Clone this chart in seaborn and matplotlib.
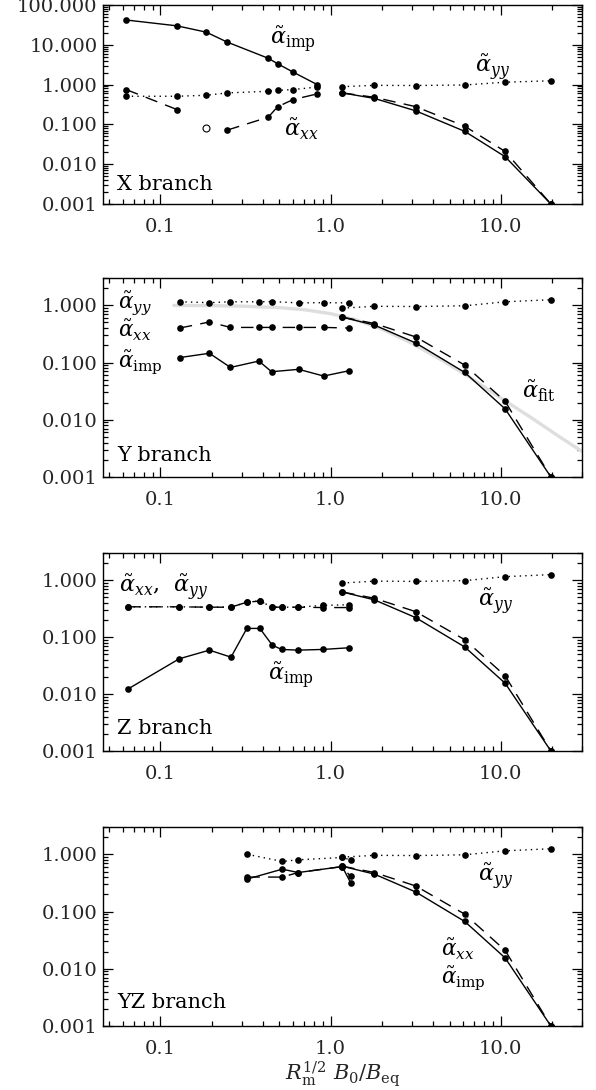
import numpy as np
import matplotlib
matplotlib.use("Agg")
import matplotlib.pyplot as plt
import seaborn as sns
from matplotlib.ticker import FixedLocator, FormatStrFormatter, NullFormatter, LogLocator

sns.set_theme(style="ticks")
plt.rcParams["font.family"] = ["DejaVu Serif"]
plt.rcParams["mathtext.fontset"] = "dejavuserif"

# ---- shared branch beyond the bifurcation (x > 1) ----
x_right = [1.17, 1.81, 3.16, 6.14, 10.6, 19.7]
yy_right = [0.89, 0.96, 0.95, 0.98, 1.15, 1.25]
imp_right = [0.62, 0.45, 0.22, 0.067, 0.0155, 0.001]
xx_right = [0.62, 0.48, 0.28, 0.09, 0.021, 0.001]

# ---- X branch ----
x_X = [0.063, 0.125, 0.186, 0.247, 0.43, 0.488, 0.60, 0.835]
imp_X = [42.0, 30.0, 20.8, 11.7, 4.6, 3.35, 2.08, 1.0]
yy_X = [0.51, 0.51, 0.54, 0.62, 0.68, 0.72, 0.75, 0.87]
xx_X = [0.75, 0.237, np.nan, 0.072, 0.152, 0.277, 0.42, 0.585]
xx_X_neg_x = [0.186]
xx_X_neg = [0.083]

# ---- Y branch ----
x_Y = [0.13, 0.194, 0.258, 0.379, 0.45, 0.65, 0.91, 1.29]
yy_Y = [1.15, 1.11, 1.15, 1.15, 1.16, 1.10, 1.11, 1.10]
xx_Y = [0.40, 0.51, 0.41, 0.41, 0.41, 0.41, 0.41, 0.40]
imp_Y = [0.122, 0.145, 0.082, 0.106, 0.069, 0.076, 0.058, 0.072]
x_fit = [0.12, 0.2, 0.3, 0.5, 0.7, 1.0, 1.4, 2.0, 3.0, 4.5, 6.5, 10.0, 15.0, 22.0, 30.0]
y_fit = [0.994, 0.984, 0.965, 0.909, 0.836, 0.714, 0.56, 0.385, 0.217, 0.11,
         0.056, 0.024, 0.011, 0.0051, 0.0028]

# ---- Z branch ----
x_Z = [0.0646, 0.129, 0.194, 0.26, 0.322, 0.384, 0.454, 0.515, 0.643, 0.90, 1.29]
xx_Z = [0.34, 0.34, 0.335, 0.335, 0.41, 0.43, 0.335, 0.335, 0.335, 0.33, 0.33]
yy_Z = [0.34, 0.34, 0.335, 0.335, 0.41, 0.43, 0.335, 0.335, 0.335, 0.36, 0.37]
imp_Z = [0.0123, 0.0416, 0.059, 0.0444, 0.142, 0.142, 0.0723, 0.0607, 0.059, 0.0607, 0.065]

# ---- YZ branch ----
x_YZ = [0.324, 0.52, 0.645, 1.17, 1.31]
yy_YZ = [1.0, 0.75, 0.80, 0.88, 0.80]
xx_YZ = [0.40, 0.40, 0.48, 0.61, 0.41]
imp_YZ = [0.37, 0.55, 0.48, 0.61, 0.32]

x_ticks = [0.1, 1.0, 10.0]
y_ticks_X = [0.001, 0.01, 0.1, 1.0, 10.0, 100.0]
y_ticks = [0.001, 0.01, 0.1, 1.0]

SOLID = "-"
DASHED = (0, (9, 6))
DOTTED = (0, (1, 3))


def curve(ax, x, y, ls, ms=4.8):
    """Draw a marked line, leaving gaps where y is NaN."""
    x = np.asarray(x, float)
    y = np.asarray(y, float)
    idx = np.flatnonzero(~np.isnan(y))
    if idx.size == 0:
        return
    splits = np.flatnonzero(np.diff(idx) > 1) + 1
    for run in np.split(idx, splits):
        sns.lineplot(x=x[run], y=y[run], ax=ax, color="black", linestyle=ls,
                     linewidth=1.0, marker="o", markersize=ms,
                     markeredgewidth=0, markeredgecolor="black",
                     sort=False, estimator=None, legend=False)


def style_axes(ax, ylim, yt):
    ax.set_xscale("log")
    ax.set_yscale("log")
    ax.set_xlim(0.046, 30)
    ax.set_ylim(*ylim)
    ax.xaxis.set_major_locator(FixedLocator(x_ticks))
    ax.xaxis.set_major_formatter(FormatStrFormatter("%.1f"))
    ax.xaxis.set_minor_locator(LogLocator(base=10, subs=np.arange(2, 10)))
    ax.xaxis.set_minor_formatter(NullFormatter())
    ax.yaxis.set_major_locator(FixedLocator(yt))
    ax.yaxis.set_major_formatter(FormatStrFormatter("%.3f"))
    ax.yaxis.set_minor_locator(LogLocator(base=10, subs=np.arange(2, 10)))
    ax.yaxis.set_minor_formatter(NullFormatter())
    ax.tick_params(which="both", direction="in", top=True, right=True,
                   color="black", width=0.9)
    ax.tick_params(which="major", length=7)
    ax.tick_params(which="minor", length=3.5)
    ax.tick_params(axis="x", which="major", pad=10, labelsize=14)
    ax.tick_params(axis="y", which="major", pad=4, labelsize=14)
    for s in ax.spines.values():
        s.set_color("black")
        s.set_linewidth(1.0)
    ax.set_xlabel("")
    ax.set_ylabel("")


fig = plt.figure(figsize=(5.96, 10.9), dpi=100)
L, W = 103 / 596, 479 / 596
rects = [(L, 0.8128, W, 0.1826), (L, 0.5624, W, 0.1826),
         (L, 0.3110, W, 0.1817), (L, 0.0587, W, 0.1826)]
axes = [fig.add_axes(r) for r in rects]

A_IMP = r"$\tilde{\alpha}_{\mathrm{imp}}$"
A_XX = r"$\tilde{\alpha}_{xx}$"
A_YY = r"$\tilde{\alpha}_{yy}$"
A_FIT = r"$\tilde{\alpha}_{\mathrm{fit}}$"
LBL = dict(fontsize=16, ha="left", va="center", color="black")
LBL_S = dict(fontsize=15.5, ha="left", va="center", color="black")
BR = dict(fontsize=15, ha="left", va="center", color="black")


def right_branch(ax):
    curve(ax, x_right, yy_right, DOTTED)
    curve(ax, x_right, xx_right, DASHED)
    curve(ax, x_right, imp_right, SOLID)


# X branch
ax = axes[0]
style_axes(ax, (0.001, 100), y_ticks_X)
curve(ax, x_X, imp_X, SOLID)
curve(ax, x_X, yy_X, DOTTED)
curve(ax, x_X, xx_X, DASHED)
sns.lineplot(x=xx_X_neg_x, y=xx_X_neg, ax=ax, color="black", linestyle="none",
             marker="o", markersize=5, markerfacecolor="white",
             markeredgecolor="black", markeredgewidth=0.8, legend=False)
right_branch(ax)
ax.text(0.44, 14, A_IMP, **LBL)
ax.text(7.1, 2.7, A_YY, **LBL)
ax.text(0.53, 0.075, A_XX, **LBL)
ax.text(0.03, 0.10, "X branch", transform=ax.transAxes, **BR)

# Y branch
ax = axes[1]
style_axes(ax, (0.001, 3), y_ticks)
sns.lineplot(x=x_fit, y=y_fit, ax=ax, color="#dedede", linewidth=2.4,
             sort=False, estimator=None, legend=False)
curve(ax, x_Y, yy_Y, DOTTED)
curve(ax, x_Y, xx_Y, DASHED)
curve(ax, x_Y, imp_Y, SOLID)
right_branch(ax)
ax.text(0.056, 1.1, A_YY, **LBL_S)
ax.text(0.056, 0.36, A_XX, **LBL_S)
ax.text(0.056, 0.10, A_IMP, **LBL_S)
ax.text(13.3, 0.032, A_FIT, **LBL)
ax.text(0.03, 0.11, "Y branch", transform=ax.transAxes, **BR)

# Z branch
ax = axes[2]
style_axes(ax, (0.001, 3), y_ticks)
curve(ax, x_Z, yy_Z, DOTTED)
curve(ax, x_Z, xx_Z, DASHED)
curve(ax, x_Z, imp_Z, SOLID)
right_branch(ax)
ax.text(0.057, 0.75, A_XX + ",  " + A_YY, **LBL)
ax.text(7.3, 0.43, A_YY, **LBL)
ax.text(0.43, 0.022, A_IMP, **LBL)
ax.text(0.03, 0.115, "Z branch", transform=ax.transAxes, **BR)

# YZ branch
ax = axes[3]
style_axes(ax, (0.001, 3), y_ticks)
curve(ax, x_YZ, yy_YZ, DOTTED)
curve(ax, x_YZ, xx_YZ, DASHED)
curve(ax, x_YZ, imp_YZ, SOLID)
right_branch(ax)
ax.text(7.3, 0.41, A_YY, **LBL)
ax.text(4.45, 0.022, A_XX, **LBL_S)
ax.text(4.45, 0.0068, A_IMP, **LBL_S)
ax.text(0.03, 0.12, "YZ branch", transform=ax.transAxes, **BR)
ax.set_xlabel(r"$R_{\mathrm{m}}^{1/2}\ B_0/B_{\mathrm{eq}}$", fontsize=15,
              labelpad=1)

fig.savefig("out.png", dpi=100)
